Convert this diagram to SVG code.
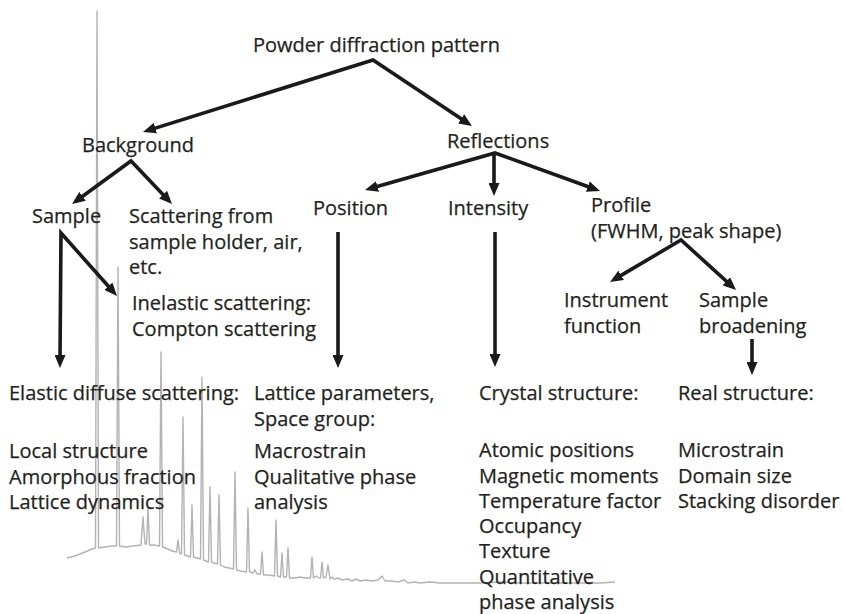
<svg xmlns="http://www.w3.org/2000/svg" width="843" height="614" viewBox="0 0 843 614">
<defs>
<style>
text{font-family:"Open Sans","Liberation Sans",sans-serif;font-size:20px;fill:#231f20;stroke:#231f20;stroke-width:0.25}
.c{fill:none;stroke:#1a1a1a;stroke-width:3.6;stroke-linejoin:miter;marker-start:url(#ah);marker-end:url(#ah)}
.e{fill:none;stroke:#1a1a1a;stroke-width:3.6;marker-end:url(#ah)}
.pat{fill:none;stroke:#b3b3b3;stroke-width:1.4;stroke-linejoin:round}
</style>
<marker id="ah" viewBox="0 0 13 11" refX="5" refY="5.5" markerWidth="13" markerHeight="11" markerUnits="userSpaceOnUse" orient="auto-start-reverse">
<path d="M0,0 L13,5.5 L0,11 z" fill="#1a1a1a"/>
</marker>
</defs>
<rect width="843" height="614" fill="#fff"/>
<path class="pat" d="M67,558 L75,556 L85,552 L92,549 L95.5,548 L97,11 L98.5,548 L105,547 L112,546 L116.5,546 L118,267 L119.5,546 L126,547 L133,546 L141,545 L143,517 L145,544 L146.5,544 L148,508 L149.5,545 L154,545 L159.5,546 L161,352 L162.5,547 L168,549 L172,551 L176.5,552 L178,540 L179.5,553 L181.5,554 L183,417 L184.5,555 L188,556 L190.5,557 L192,505 L193.5,557 L197,558 L200.5,559 L202,377 L203.5,560 L206,561 L208.5,562 L210,487 L211.5,562 L214,563 L217.5,564 L219,495 L220.5,565 L224,567 L229,568 L233.5,569 L235,472 L236.5,570 L240,571 L246.5,572 L248,508 L249.5,572 L253,573 L255,570 L257,574 L260.5,574 L262,552 L263.5,575 L268,575 L274.5,576 L276,520 L277.5,576 L280.5,577 L282,553 L283.5,577 L286.5,577 L288,548 L289.5,578 L295,578 L300,577 L305,578 L310.5,578 L312,557 L313.5,578 L316,576 L319,578 L320.5,578 L322,562 L323.5,578 L326,577 L328,565 L330,579 L332,577 L334,579 L338,578 L342,580 L348,579 L352,581 L356,579 L360,581 L366,580 L372,581 L378,580 L382,576 L385,581 L392,581 L398,582 L404,580 L408,583 L414,582 L420,583 L430,582 L440,583 L460,583 L480,583 L500,582 L520,583 L560,583 L600,583 L615,582"/>
<g id="connectors">
<path class="c" d="M150.6,129.6 L373,60 L465.3,121.6"/>
<path class="c" d="M78.5,199.3 L131,161 L166.5,198.2"/>
<path class="c" d="M372.7,187.8 L495,153 L592.5,188.3"/>
<path class="e" d="M494,153 L494,188"/>
<path class="c" d="M60,360 L61,233 L111.7,290"/>
<path class="e" d="M338,232 L338,360"/>
<path class="e" d="M495,232 L495,359"/>
<path class="c" d="M616.9,277.9 L681,240 L730.1,284.6"/>
<path class="e" d="M752,339 L752,367"/>
</g>
<g id="n-pattern"><text x="253" y="52">Powder diffraction pattern</text></g>
<g id="n-background"><text x="82" y="152">Background</text></g>
<g id="n-reflections"><text x="447" y="148">Reflections</text></g>
<g id="n-sample"><text x="32" y="223">Sample</text></g>
<g id="n-scattering"><text x="129" y="223">Scattering from</text><text x="129" y="248.5">sample holder, air,</text><text x="129" y="274">etc.</text></g>
<g id="n-position"><text x="313" y="215">Position</text></g>
<g id="n-intensity"><text x="448" y="215">Intensity</text></g>
<g id="n-profile"><text x="591" y="212">Profile</text><text x="591" y="237.5">(FWHM, peak shape)</text></g>
<g id="n-inelastic"><text x="132" y="310">Inelastic scattering:</text><text x="132" y="336">Compton scattering</text></g>
<g id="n-instrument"><text x="564" y="307">Instrument</text><text x="564" y="333">function</text></g>
<g id="n-broadening"><text x="699" y="307">Sample</text><text x="699" y="333">broadening</text></g>
<g id="n-elastic"><text x="9" y="400">Elastic diffuse scattering:</text><text x="9" y="458">Local structure</text><text x="9" y="483.5">Amorphous fraction</text><text x="9" y="509">Lattice dynamics</text></g>
<g id="n-lattice"><text x="254" y="400">Lattice parameters,</text><text x="254" y="426">Space group:</text><text x="254" y="458">Macrostrain</text><text x="254" y="483.5">Qualitative phase</text><text x="254" y="509">analysis</text></g>
<g id="n-crystal"><text x="479" y="400">Crystal structure:</text><text x="479" y="457">Atomic positions</text><text x="479" y="482.5">Magnetic moments</text><text x="479" y="508">Temperature factor</text><text x="479" y="533">Occupancy</text><text x="479" y="558">Texture</text><text x="479" y="583.5">Quantitative</text><text x="479" y="609">phase analysis</text></g>
<g id="n-real"><text x="678" y="400">Real structure:</text><text x="678" y="457">Microstrain</text><text x="678" y="482.5">Domain size</text><text x="678" y="508">Stacking disorder</text></g>
</svg>
